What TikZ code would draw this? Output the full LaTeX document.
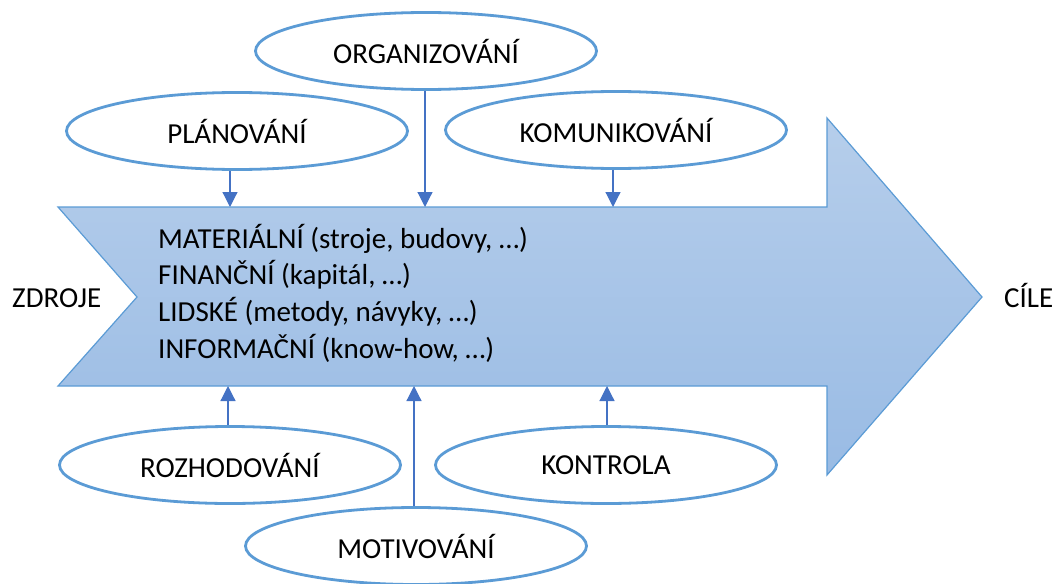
\documentclass[tikz,border=0pt]{standalone}
\usepackage{fontspec}
\setmainfont{Carlito}
\usetikzlibrary{arrows.meta,shapes.geometric}
\definecolor{edgeblue}{HTML}{5B9BD5}
\definecolor{linkblue}{HTML}{4472C4}
\definecolor{fillTop}{RGB}{182,206,235}
\definecolor{fillBot}{RGB}{153,187,228}

\begin{document}
\begin{tikzpicture}[x=1pt,y=-1pt,
  bubble/.style={ellipse, draw=edgeblue, line width=2.8pt, fill=white,
    inner sep=0pt, minimum width=341pt, minimum height=77pt,
    font=\fontsize{29}{34}\selectfont},
  label/.style={inner sep=0pt, font=\fontsize{29}{36.7}\selectfont},
  link/.style={draw=linkblue, line width=1.2pt,
    -{Triangle[length=15pt,width=15pt]}},
  ]
\useasboundingbox (0,0) rectangle (1056,583);

% big process arrow: notched tail, wide head
\path[draw=edgeblue, line width=1.2pt, top color=fillTop, bottom color=fillBot,
      line join=miter]
  (58,207) -- (827,207) -- (827,118) -- (982,297) -- (827,475)
  -- (827,386) -- (58,386) -- (137,297) -- cycle;

% attachment points on the arrow edges
\coordinate (tPlan) at (230,207);
\coordinate (tOrg)  at (425,207);
\coordinate (tKom)  at (613,207);
\coordinate (bRoz)  at (228,386);
\coordinate (bMot)  at (414,386);
\coordinate (bKon)  at (607,386);

% contents of the arrow (base anchor sits on the last line)
\node[label, anchor=base west, align=left] (res) at (158,358.1)
  {MATERIÁLNÍ (stroje, budovy, …)\\
   FINANČNÍ (kapitál, …)\\
   LIDSKÉ (metody, návyky, …)\\
   INFORMAČNÍ (know-how, …)};

\node[label, anchor=base west] (src) at (12,307) {ZDROJE};
\node[label, anchor=base west] (goal) at (1004,307) {CÍLE};

% management functions
\node[bubble] (org)  at (426,51)  {ORGANIZOVÁNÍ};
\node[bubble] (plan) at (237,131) {PLÁNOVÁNÍ};
\node[bubble] (kom)  at (616,130) {KOMUNIKOVÁNÍ};
\node[bubble] (roz)  at (230,465) {ROZHODOVÁNÍ};
\node[bubble] (kon)  at (606,465) {KONTROLA};
\node[bubble] (mot)  at (416,546) {MOTIVOVÁNÍ};

% connectors into the arrow
\draw[link] (plan.south -| tPlan) -- (tPlan);
\draw[link] (org.south -| tOrg) -- (tOrg);
\draw[link] (kom.south -| tKom) -- (tKom);
\draw[link] (roz.north -| bRoz) -- (bRoz);
\draw[link] (mot.north -| bMot) -- (bMot);
\draw[link] (kon.north -| bKon) -- (bKon);
\end{tikzpicture}
\end{document}
